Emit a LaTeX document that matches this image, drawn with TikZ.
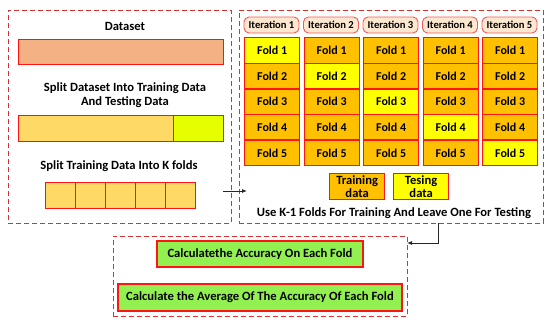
\documentclass[tikz,border=0pt]{standalone}
\usepackage{fontspec}
\setmainfont{Carlito}
\usetikzlibrary{arrows.meta}
\definecolor{dashred}{RGB}{215,50,50}
\definecolor{bred}{RGB}{255,20,20}
\definecolor{salmon}{RGB}{244,177,131}
\definecolor{trainc}{RGB}{255,217,102}
\definecolor{testc}{RGB}{230,255,0}
\definecolor{foldo}{RGB}{255,192,0}
\definecolor{foldy}{RGB}{255,255,0}
\definecolor{itc}{RGB}{252,232,208}
\definecolor{itb}{RGB}{240,90,90}
\definecolor{greenc}{RGB}{146,240,80}
\tikzset{
  x=1pt,y=-1pt,
  outerbox/.style={draw=dashred,dashed,dash pattern=on 5pt off 3pt,line width=0.8pt},
  bar/.style={draw=bred,line width=1.3pt,anchor=north west,inner sep=0pt},
  lbl/.style={font=\bfseries\fontsize{12.6}{14}\selectfont,align=center,inner sep=0pt},
  foldbox/.style={draw=bred,line width=1.3pt,minimum width=55pt,minimum height=25.6pt,anchor=north west,inner sep=0pt,font=\bfseries\fontsize{12}{13}\selectfont},
  iterbox/.style={draw=itb,fill=itc,rounded corners=5pt,line width=0.9pt,minimum width=55pt,minimum height=16pt,inner sep=0pt,font=\bfseries\fontsize{10.6}{12}\selectfont},
  greenbox/.style={draw=bred,fill=greenc,line width=1.4pt,inner sep=0pt,font=\bfseries\fontsize{12.6}{14}\selectfont},
  conn/.style={draw=black!85,line width=0.8pt,-{Latex[length=5pt,width=4pt]}}
}
\begin{document}
\begin{tikzpicture}
\useasboundingbox (0,0) rectangle (550,327);
% left box
\node[outerbox,minimum width=223pt,minimum height=213pt,anchor=north west,inner sep=0pt] (L) at (8,10) {};
\node[lbl] (t1) at (125,26) {Dataset};
\node[bar,fill=salmon,minimum width=205pt,minimum height=25pt] (ds) at (18,39) {};
\node[lbl,align=center] (t2) at (125,95) {Split Dataset Into Training Data\\And Testing Data};
\node[bar,fill=trainc,minimum width=155pt,minimum height=26pt] (tr) at (18,115) {};
\node[bar,fill=testc,minimum width=50pt,minimum height=26pt] (te) at (173,115) {};
\node[lbl] (t3) at (119,166) {Split Training Data Into K folds};
\foreach \i in {0,...,4}{
  \node[bar,fill=trainc,minimum width=30pt,minimum height=26pt] (k\i) at (45+30*\i,182) {};
}
% right box
\node[outerbox,minimum width=304pt,minimum height=213pt,anchor=north west,inner sep=0pt] (R) at (239,10) {};
\foreach \c/\x in {1/244,2/303.5,3/363,4/422.5,5/482}{
  \node[iterbox] (it\c) at (\x+27.5,25) {Iteration \c};
  \foreach \r in {1,...,5}{
    \ifnum\r=\c
      \node[foldbox,fill=foldy] (f\c\r) at (\x,37+25.6*\r-25.6) {Fold \r};
    \else
      \node[foldbox,fill=foldo] (f\c\r) at (\x,37+25.6*\r-25.6) {Fold \r};
    \fi
  }
}
\node[foldbox,fill=foldo,minimum height=26pt] (lt) at (329,173) {};
\node[lbl] at ([yshift=0.5pt]lt.center) {Training\\[-1pt]data};
\node[foldbox,fill=foldy,minimum height=26pt] (ly) at (393,173) {};
\node[lbl] at ([yshift=0.5pt]ly.center) {Tesing\\[-1pt]data};
\node[lbl] (t4) at (394,213) {Use K-1 Folds For Training And Leave One For Testing};
% bottom box
\node[outerbox,minimum width=294pt,minimum height=80pt,anchor=north west,inner sep=0pt] (B) at (113,236) {};
\node[greenbox,minimum width=206pt,minimum height=26pt] (g1) at (260,254) {Calculatethe Accuracy On Each Fold};
\node[greenbox,minimum width=284pt,minimum height=27pt] (g2) at (260,297.5) {Calculate the Average Of The Accuracy Of Each Fold};
% connectors
\coordinate (a0) at (223,191);
\coordinate (a1) at (247,191);
\draw[conn] (a0) -- (a1);
\coordinate (b0) at (438,223);
\coordinate (b1) at (438,243);
\coordinate (b2) at (407,243);
\draw[conn] (b0) -- (b1) -- (b2);
\end{tikzpicture}
\end{document}
